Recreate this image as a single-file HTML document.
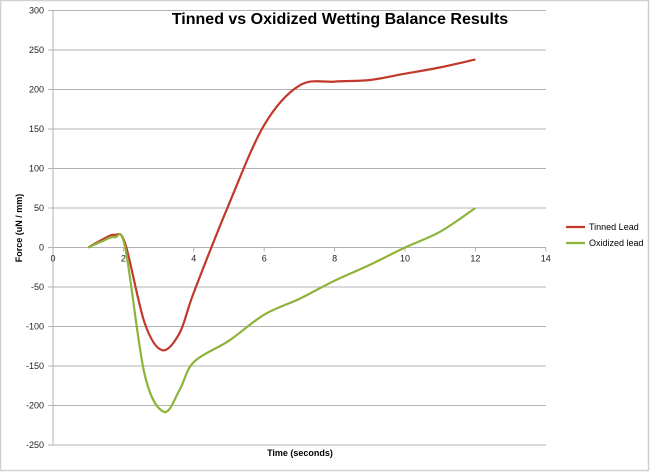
<!DOCTYPE html>
<html><head><meta charset="utf-8"><style>
html,body{margin:0;padding:0;background:#fff}
svg{display:block;font-family:"Liberation Sans",sans-serif}
</style></head><body>
<svg id="c" width="650" height="472" viewBox="0 0 650 472">
<rect x="0.5" y="0.5" width="648" height="470" fill="#fff" stroke="#d0d0d0" stroke-width="1.5"/>
<g id="grid" stroke="#b3b3b3" stroke-width="1"></g>
<g id="lab" font-size="9" fill="#222"></g>
<text x="340" y="24" font-size="16" font-weight="bold" text-anchor="middle" fill="#000">Tinned vs Oxidized Wetting Balance Results</text>
<text x="300" y="456" font-size="9" font-weight="bold" text-anchor="middle">Time (seconds)</text>
<text x="22" y="228" font-size="9" font-weight="bold" text-anchor="middle" transform="rotate(-90 22 228)">Force (uN / mm)</text>
<path id="p1" fill="none" stroke="#c0392b" stroke-width="2.2"/>
<path id="p2" fill="none" stroke="#8db33a" stroke-width="2.2"/>
<line x1="566" y1="227" x2="585" y2="227" stroke="#c0392b" stroke-width="2.2"/>
<text x="589" y="230" font-size="9">Tinned Lead</text>
<line x1="566" y1="243" x2="585" y2="243" stroke="#8db33a" stroke-width="2.2"/>
<text x="589" y="246" font-size="9">Oxidized lead</text>
</svg>
<script>
var X=function(v){return 53+v*35.2},Y=function(v){return 247.5-v*0.79};
var g=document.getElementById('grid'),l=document.getElementById('lab'),ns='http://www.w3.org/2000/svg';
function el(p,t,a,txt){var e=document.createElementNS(ns,t);for(var k in a)e.setAttribute(k,a[k]);if(txt!=null)e.textContent=txt;p.appendChild(e);return e;}
for(var v=-250;v<=300;v+=50){var y=Y(v);el(g,'line',{x1:48,x2:546,y1:y,y2:y});el(l,'text',{x:44,y:y+3,'text-anchor':'end'},v);}
el(g,'line',{x1:53,x2:53,y1:Y(300),y2:Y(-250)});
for(var t=0;t<=14;t+=2){el(g,'line',{x1:X(t),x2:X(t),y1:Y(0),y2:Y(0)+4});el(l,'text',{x:X(t),y:Y(0)+14,'text-anchor':'middle'},t);}
function path(d){var p=d.map(function(a){return[X(a[0]),Y(a[1])]});var s='M'+p[0][0]+','+p[0][1];
for(var i=0;i<p.length-1;i++){var p0=p[i-1]||p[i],p1=p[i],p2=p[i+1],p3=p[i+2]||p2;
s+=' C'+(p1[0]+(p2[0]-p0[0])/6)+','+(p1[1]+(p2[1]-p0[1])/6)+' '+(p2[0]-(p3[0]-p1[0])/6)+','+(p2[1]-(p3[1]-p1[1])/6)+' '+p2[0]+','+p2[1];}return s;}
document.getElementById('p1').setAttribute('d',path([[1,0],[1.4,10],[1.75,16],[2.05,5],[2.6,-95],[3.1,-130],[3.6,-108],[4,-57],[5,55],[6,155],[7,205],[8,210],[9,212],[10,220],[11,228],[12,238]]));
document.getElementById('p2').setAttribute('d',path([[1,0],[1.4,8],[1.75,13],[2.05,0],[2.6,-160],[3.15,-208],[3.6,-180],[4,-145],[5,-118],[6,-85],[7,-65],[8,-42],[9,-22],[10,0],[11,20],[12,50]]));
</script>
</body></html>
